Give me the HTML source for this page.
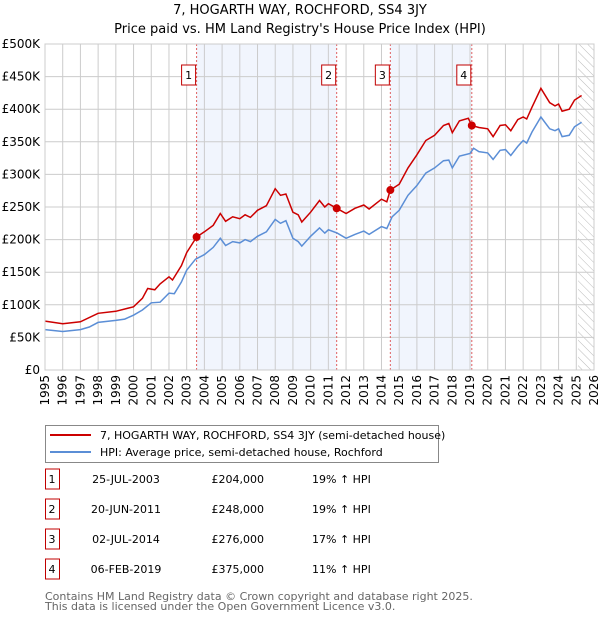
<!DOCTYPE html>
<html><head><meta charset="utf-8"><style>
body{margin:0;background:#fff;width:600px;height:620px;overflow:hidden;font-family:"DejaVu Sans","Liberation Sans",sans-serif;}
svg{display:block}
</style></head><body>
<svg id="chart" width="600" height="620" xmlns="http://www.w3.org/2000/svg">
<text x="300" y="14" text-anchor="middle" font-size="13">7, HOGARTH WAY, ROCHFORD, SS4 3JY</text>
<text x="300" y="33" text-anchor="middle" font-size="13">Price paid vs. HM Land Registry's House Price Index (HPI)</text>
<g id="plot"></g>
<g>
<rect x="45.5" y="425.5" width="393" height="37" fill="#fff" stroke="#888"/>
<line x1="50" y1="435" x2="91" y2="435" stroke="#cc0000" stroke-width="2"/>
<text x="100" y="439" font-size="11">7, HOGARTH WAY, ROCHFORD, SS4 3JY (semi-detached house)</text>
<line x1="50" y1="452" x2="91" y2="452" stroke="#5b8ed6" stroke-width="2"/>
<text x="100" y="456" font-size="11">HPI: Average price, semi-detached house, Rochford</text>
</g>
<g id="table" font-size="11"></g>
<text x="45" y="600" font-size="11" fill="#666">Contains HM Land Registry data © Crown copyright and database right 2025.</text>
<text x="45" y="610" font-size="11" fill="#666">This data is licensed under the Open Government Licence v3.0.</text>
</svg>
<script>
const hpiYears=[1995,1996,1997,1997.5,1998,1999,1999.5,2000,2000.5,2001,2001.5,2002,2002.3,2002.7,2003,2003.5,2004,2004.5,2004.9,2005.2,2005.6,2006,2006.3,2006.6,2007,2007.5,2008,2008.3,2008.6,2009,2009.3,2009.5,2010,2010.5,2010.8,2011,2011.5,2012,2012.5,2013,2013.3,2014,2014.3,2014.6,2015,2015.5,2016,2016.5,2017,2017.5,2017.8,2018,2018.4,2019,2019.2,2019.5,2020,2020.3,2020.7,2021,2021.3,2021.7,2022,2022.2,2022.5,2023,2023.5,2023.8,2024,2024.2,2024.6,2024.9,2025.3];
const hpiValues=[62,59,62,66,73,76,78,84,92,103,104,118,117,135,153,170,177,188,202,191,197,195,200,197,205,212,231,225,229,202,197,190,205,218,210,215,210,202,208,213,208,220,217,235,245,268,283,302,310,321,322,310,328,332,340,335,333,323,337,338,329,343,352,348,365,388,370,367,370,358,360,373,380];
const propYears=[1995,1996,1997,1998,1999,2000,2000.5,2000.8,2001.2,2001.5,2002,2002.2,2002.7,2003,2003.56,2004,2004.5,2004.9,2005.2,2005.6,2006,2006.3,2006.6,2007,2007.5,2008,2008.3,2008.6,2009,2009.3,2009.5,2010,2010.5,2010.8,2011,2011.47,2012,2012.5,2013,2013.3,2014,2014.3,2014.5,2015,2015.5,2016,2016.5,2017,2017.5,2017.8,2018,2018.4,2018.9,2019.1,2019.5,2020,2020.3,2020.7,2021,2021.3,2021.7,2022,2022.2,2022.5,2023,2023.5,2023.8,2024,2024.2,2024.6,2024.9,2025.3];
const propValues=[75,71,74,87,90,97,110,125,123,132,143,138,160,180,204,212,222,240,228,235,232,238,234,245,252,278,268,270,242,238,227,242,260,250,255,248,240,248,253,247,262,258,276,285,310,330,352,360,375,378,364,382,386,375,372,370,358,375,376,367,384,388,385,403,432,410,405,408,397,400,414,421];
const saleLabels=["1","2","3","4"];
const saleYears=[2003.56,2011.47,2014.5,2019.1];
const saleValues=[204,248,276,375];
const saleDates=["25-JUL-2003","20-JUN-2011","02-JUL-2014","06-FEB-2019"];
const salePrices=["£204,000","£248,000","£276,000","£375,000"];
const saleHpi=["19% ↑ HPI","19% ↑ HPI","17% ↑ HPI","11% ↑ HPI"];
const yTicks=[0,50,100,150,200,250,300,350,400,450,500];
const yTickLabels=["£0","£50K","£100K","£150K","£200K","£250K","£300K","£350K","£400K","£450K","£500K"];
const xTicks=[1995,1996,1997,1998,1999,2000,2001,2002,2003,2004,2005,2006,2007,2008,2009,2010,2011,2012,2013,2014,2015,2016,2017,2018,2019,2020,2021,2022,2023,2024,2025,2026];
const futureStart=2025.1;

const NS="http://www.w3.org/2000/svg";
const X0=45,X1=594,Y0=370,Y1=44;
const xs=y=>X0+(y-1995)/(2026-1995)*(X1-X0);
const ys=v=>Y0-v/500*(Y0-Y1);
const plot=document.getElementById('plot');
function mk(tag,attrs,parent){const e=document.createElementNS(NS,tag);for(const k in attrs)e.setAttribute(k,attrs[k]);(parent||plot).appendChild(e);return e;}

// shading
for(let i=0;i<saleYears.length;i+=2){
  const r=mk('rect',{x:xs(saleYears[i]),y:Y1,width:xs(saleYears[i+1])-xs(saleYears[i]),height:Y0-Y1,fill:'#eef3fc',opacity:0.8});
  
  
}
// hatch
const defs=mk('defs',{});
const pat=mk('pattern',{id:'hatch',width:6,height:6,patternUnits:'userSpaceOnUse',patternTransform:'rotate(-45)'},defs);
mk('line',{x1:0,y1:0,x2:0,y2:6,stroke:'#bbb','stroke-width':1},pat);
const hr=mk('rect',{x:xs(futureStart),y:Y1,width:X1-xs(futureStart),height:Y0-Y1,fill:'url(#hatch)'});


// grid
yTicks.forEach((t,i)=>{
  const l=mk('line',{x1:X0,x2:X1,y1:ys(t),y2:ys(t),stroke:'#ccc','stroke-width':1});
  
  
  const tx=mk('text',{x:40,y:ys(t)+4,'text-anchor':'end','font-size':12});
  tx.textContent=yTickLabels[i];
  
  
});
xTicks.forEach(t=>{
  const l=mk('line',{x1:xs(t),x2:xs(t),y1:Y1,y2:Y0,stroke:'#ccc','stroke-width':1});
  
  
  const tx=mk('text',{x:0,y:0,'text-anchor':'end','font-size':12,transform:`translate(${xs(t)+4},${Y0+5}) rotate(-90)`});
  tx.textContent=t;
  
  
});
// sale vlines
saleYears.forEach((y,i)=>{
  const l=mk('line',{x1:xs(y),x2:xs(y),y1:Y1,y2:Y0,stroke:'#e06060','stroke-width':1,'stroke-dasharray':'2,2'});
  
  
  const b=mk('rect',{x:xs(y)-15,y:65,width:14,height:20,fill:'#fff',stroke:'#c00000'});
  
  
  const t=mk('text',{x:xs(y)-8,y:79,'text-anchor':'middle','font-size':11});
  t.textContent=saleLabels[i];
  
  
});
// lines
const hp=mk('path',{d:hpiYears.map((y,i)=>(i?'L':'M')+xs(y).toFixed(1)+','+ys(hpiValues[i]).toFixed(1)).join(''),fill:'none',stroke:'#5b8ed6','stroke-width':1.5});


const pp=mk('path',{d:propYears.map((y,i)=>(i?'L':'M')+xs(y).toFixed(1)+','+ys(propValues[i]).toFixed(1)).join(''),fill:'none',stroke:'#cc0000','stroke-width':1.5});


saleYears.forEach((y,i)=>{
  const c=mk('circle',{cx:xs(y),cy:ys(saleValues[i]),r:4,fill:'#cc0000'});
  
  
});
// axes frame
const ax=mk('rect',{x:X0,y:Y1,width:X1-X0,height:Y0-Y1,fill:'none',stroke:'#ccc'});


// table
const tb=document.getElementById('table');
saleLabels.forEach((s,i)=>{
  const y=483+i*30;
  const b=mk('rect',{x:45.5,y:y-14,width:14,height:20,fill:'#fff',stroke:'#c00000'},tb);
  
  
  const cells=[[52,'middle',s,'table-row-number'],[126,'middle',saleDates[i],'table-row-date'],[264,'end',salePrices[i],'table-row-price'],[312,'start',saleHpi[i],'table-row-hpi']];
  cells.forEach(c=>{
    const t=mk('text',{x:c[0],y:y,'text-anchor':c[1]},tb);
    t.textContent=c[2];
    
    
  });
});
</script>
</body></html>
